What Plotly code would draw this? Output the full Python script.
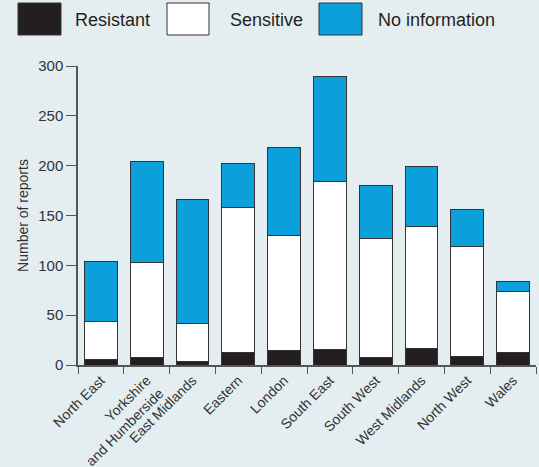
import plotly.graph_objects as go

regions = ["North East", "Yorkshire<br>and Humberside", "East Midlands", "Eastern", "London",
           "South East", "South West", "West Midlands", "North West", "Wales"]
resistant = [6, 8, 4, 13, 15, 16, 8, 17, 9, 13]
sensitive = [38, 95, 38, 145, 115, 168, 119, 122, 110, 61]
no_info = [60, 101, 124, 44, 88, 105, 53, 60, 37, 10]
y_ticks = [0, 50, 100, 150, 200, 250, 300]

series = [("Resistant", resistant, "#231F20"),
          ("Sensitive", sensitive, "#FFFFFF"),
          ("No information", no_info, "#0BA0DC")]

W, H = 539, 467
L, R, T, B = 78, 3, 66, 102
pw, ph = W - L - R, H - T - B

def px(x):
    return (x - L) / pw

def py(y):
    return (H - B - y) / ph

fig = go.Figure()
for name, vals, col in series:
    fig.add_trace(go.Bar(x=regions, y=vals, name=name, marker_color=col,
                         marker_line=dict(color="#333333", width=1), showlegend=False))

# legend drawn manually with large swatches
legend_items = [("Resistant", "#231F20", 18, 61, 73),
                ("Sensitive", "#FFFFFF", 167, 209, 228),
                ("No information", "#0BA0DC", 319, 362, 376)]
shapes, annots = [], []
for name, col, x0, x1, tx in legend_items:
    shapes.append(dict(type="rect", xref="paper", yref="paper", x0=px(x0), x1=px(x1),
                       y0=py(35), y1=py(3), fillcolor=col,
                       line=dict(color="#333333", width=1)))
    annots.append(dict(text=name, xref="paper", yref="paper", x=px(tx), y=py(20),
                       xanchor="left", yanchor="middle", showarrow=False,
                       font=dict(size=18, color="#231F20")))

fig.update_layout(
    barmode="stack", bargap=0.28,
    width=W, height=H,
    margin=dict(l=L, r=R, t=T, b=B, pad=0, autoexpand=False),
    paper_bgcolor="#E4EEF1", plot_bgcolor="#E4EEF1",
    font=dict(family="Liberation Sans, Arial, sans-serif", color="#333333", size=14),
    shapes=shapes, annotations=annots,
    xaxis=dict(type="category", tickangle=-45, tickson="boundaries", ticks="outside",
               ticklen=7, tickcolor="#555555", showline=True, linecolor="#555555",
               linewidth=1.5, showgrid=False, tickfont=dict(size=14), range=[-0.5, 9.5],
               automargin=False),
    yaxis=dict(range=[0, 300], tickvals=y_ticks, ticks="outside", ticklen=10,
               tickcolor="#555555", showline=True, linecolor="#555555", linewidth=1.5,
               showgrid=False, zeroline=False, tickfont=dict(size=15), automargin=False,
               title=dict(text="Number of reports", font=dict(size=14), standoff=6)),
)

fig.write_html("out.html", config={"displayModeBar": False},
               post_script="document.body.style.margin='0';document.body.style.background='#E4EEF1';")
